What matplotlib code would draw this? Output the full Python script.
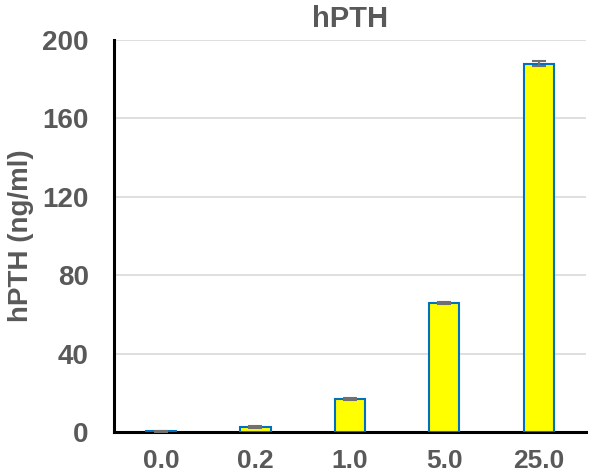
import matplotlib
matplotlib.use('Agg')
import matplotlib.pyplot as plt

categories = ['0.0', '0.2', '1.0', '5.0', '25.0']
values = [0.3, 2.8, 17.0, 66.0, 188.0]
errors = [0.2, 0.5, 0.6, 0.5, 1.2]
yticks = [0, 40, 80, 120, 160, 200]

plt.rcParams['font.family'] = ['Liberation Sans', 'DejaVu Sans']
plt.rcParams['font.weight'] = 'bold'
grey = '#595959'

fig = plt.figure(figsize=(5.9, 4.76), dpi=100)
ax = fig.add_axes([0.193, 0.0924, 0.8, 0.8236])

x = range(len(categories))
ax.bar(x, values, width=0.32, color='#ffff00', edgecolor='#0070c0', linewidth=1.5, zorder=3)
ax.errorbar(x, values, yerr=errors, fmt='none', ecolor='#707070', elinewidth=1.5,
            capsize=5, capthick=1.5, zorder=4)

ax.set_xlim(-0.5, 4.5)
ax.set_ylim(0, 200)
ax.set_yticks(yticks)
ax.set_xticks(list(x))
ax.set_xticklabels(categories)
ax.yaxis.grid(True, color='#d9d9d9', linewidth=1.2, zorder=0)
ax.set_axisbelow(True)

for s in ['top', 'right']:
    ax.spines[s].set_visible(False)
for s in ['left', 'bottom']:
    ax.spines[s].set_color('black')
    ax.spines[s].set_linewidth(2.2)

ax.tick_params(axis='both', length=0, labelsize=20, labelcolor=grey)
ax.tick_params(axis='x', pad=12, labelsize=19)
ax.tick_params(axis='y', pad=18)

ax.set_ylabel('hPTH (ng/ml)', fontsize=20, color=grey, fontweight='bold', labelpad=6)
ax.set_title('hPTH', fontsize=21, color=grey, fontweight='bold', pad=9)

fig.savefig('out.png', dpi=100)
